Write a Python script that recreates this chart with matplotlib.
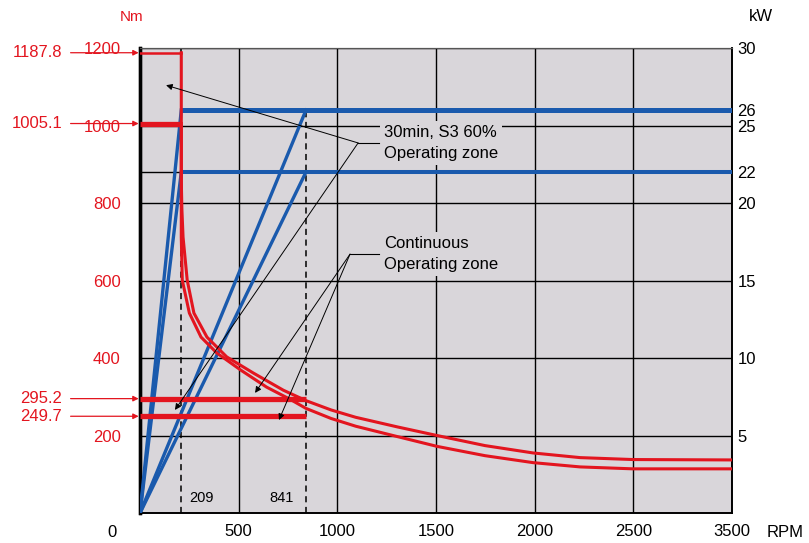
import matplotlib.pyplot as plt

plt.rcParams['font.family'] = ['Liberation Sans', 'DejaVu Sans']

# axis ticks (the printed RPM labels are as in the source drawing)
rpm_ticks = [0, 500, 1000, 1500, 2000, 2500, 3000]
rpm_labels = ['', '500', '1000', '1500', '2000', '2500', '3500']
nm_ticks = [200, 400, 600, 800, 1000, 1200]
kw_ticks = [5, 10, 15, 20, 22, 25, 26, 30]

# corner points
base_rpm = 209
max_rpm = 841
top_rpm = 3000
peak_nm = [1187.8, 1005.1]
cont_nm = [295.2, 249.7]
power_kw = [26, 22]

# torque curves
s3_rpm = [209, 209, 212, 218, 239, 273, 339, 439, 575, 726, 841, 968, 1093,
          1306, 1505, 1748, 1992, 2230, 2498, 3000]
s3_nm = [1187.8, 859, 785, 712, 601, 516, 454, 403, 361, 317, 290, 266, 247,
         222, 200, 174, 155, 143, 138, 137]
cont_rpm = [209, 209, 209, 214, 250, 309, 389, 510, 641, 762, 841, 968,
            1093, 1306, 1505, 1748, 1992, 2230, 2498, 3000]
cont_curve_nm = [1005.1, 859, 712, 601, 516, 454, 413, 369, 325, 293, 270,
                 244, 224, 197, 172, 148, 130, 119, 114, 114]

RED = '#e3151f'
BLUE = '#1a5aad'
BG = '#d9d6da'

fig = plt.figure(figsize=(8.09, 5.43), dpi=100)
ax = fig.add_axes([0.1731, 0.0552, 0.7318, 0.8564])
ax2 = ax.twinx()
ax.set_zorder(2)
ax2.set_zorder(1)
ax.patch.set_visible(False)
ax2.patch.set_visible(True)
ax2.patch.set_facecolor(BG)

ax.set_xlim(0, top_rpm)
ax.set_ylim(0, 1200)
ax2.set_ylim(0, 30)

ax.set_xticks(rpm_ticks, rpm_labels, fontsize=12)
ax.set_yticks(nm_ticks, [str(v) for v in nm_ticks], fontsize=12, color=RED)
ax2.set_yticks(kw_ticks, [str(v) for v in kw_ticks], fontsize=12)
ax.tick_params(axis='x', length=0, pad=8)
ax.tick_params(axis='y', length=0, pad=14)
ax2.tick_params(axis='y', length=0, pad=4)
ax.grid(True, color='black', lw=1)
ax.set_axisbelow(True)

for a in (ax, ax2):
    a.spines['left'].set_linewidth(2.4)
    a.spines['bottom'].set_linewidth(1.2)
    a.spines['right'].set_linewidth(1.2)
    a.spines['top'].set_linewidth(0.8)
    a.spines['top'].set_color('#555555')

kw = ax2.transData

# dashed speed markers
ax.axvline(base_rpm, color='black', lw=1.1, ls=(0, (4, 3)), zorder=1.5)
ax.vlines(max_rpm, 0, power_kw[0], color='black', lw=1.1, ls=(0, (4, 3)),
          transform=kw, zorder=1.5)
ax.plot([0, base_rpm], [power_kw[1], power_kw[1]], color='black', lw=1,
        transform=kw, zorder=1.5)

# power lines
for p, w in zip(power_kw, [3.6, 2.9]):
    ax.plot([base_rpm, top_rpm], [p, p], color=BLUE, lw=w, transform=kw,
            zorder=3, solid_capstyle='butt')
    ax.plot([0, base_rpm], [0, p], color=BLUE, lw=2.4, transform=kw, zorder=3)
    ax.plot([0, max_rpm], [0, p], color=BLUE, lw=2.4, transform=kw, zorder=3)

# torque
ax.plot([0, base_rpm], [peak_nm[0], peak_nm[0]], color=RED, lw=1.8, zorder=4)
ax.plot([0, base_rpm], [peak_nm[1], peak_nm[1]], color=RED, lw=3.8, zorder=4,
        solid_capstyle='butt')
for v in cont_nm:
    ax.plot([0, max_rpm], [v, v], color=RED, lw=3.8, zorder=4,
            solid_capstyle='butt')
ax.plot(s3_rpm, s3_nm, color=RED, lw=2.2, zorder=4, solid_joinstyle='round')
ax.plot(cont_rpm, cont_curve_nm, color=RED, lw=2.2, zorder=4,
        solid_joinstyle='round')

# value callouts on the left
for v in peak_nm + cont_nm:
    ax.annotate(f'{v}', xy=(0, v), xytext=(-56, 0), textcoords='offset points',
                ha='right', va='center', fontsize=12, color=RED,
                annotation_clip=False,
                arrowprops=dict(arrowstyle='-|>', color=RED, lw=0.9,
                                shrinkA=4, shrinkB=1, mutation_scale=8))

# zone labels with leader arrows
zones = [
    ('30min, S3 60%\nOperating zone', (1105, 955), [(132, 1104), (177, 266)]),
    ('Continuous\nOperating zone', (1064, 668), [(583, 310), (704, 240)]),
]
for label, (jx, jy), targets in zones:
    ax.text(1236, jy, label, fontsize=12, ha='left', va='center',
            linespacing=1.45, zorder=2.5,
            bbox=dict(boxstyle='square,pad=0.25', fc=BG, ec='none'))
    ax.plot([jx, 1210], [jy, jy], color='black', lw=0.8, zorder=5)
    for tx, ty in targets:
        ax.annotate('', xy=(tx, ty), xytext=(jx, jy),
                    arrowprops=dict(arrowstyle='-|>', color='black', lw=0.7,
                                    shrinkA=0, shrinkB=0, mutation_scale=9),
                    zorder=5)

ax.annotate(str(base_rpm), xy=(base_rpm, 39), xytext=(6, 0),
            textcoords='offset points', ha='left', va='center', fontsize=10.5)
ax.annotate(str(max_rpm), xy=(max_rpm, 39), xytext=(-9, 0),
            textcoords='offset points', ha='right', va='center', fontsize=10.5)

ax.text(-0.047, -0.041, '0', transform=ax.transAxes, ha='center', va='center',
        fontsize=12)
ax.text(1.0895, -0.041, 'RPM', transform=ax.transAxes, ha='center',
        va='center', fontsize=12)
ax.text(-0.015, 1.067, 'Nm', transform=ax.transAxes, ha='center',
        va='center', fontsize=11, color=RED)
ax.text(1.049, 1.067, 'kW', transform=ax.transAxes, ha='center',
        va='center', fontsize=12)

plt.savefig('out.png', dpi=100)
